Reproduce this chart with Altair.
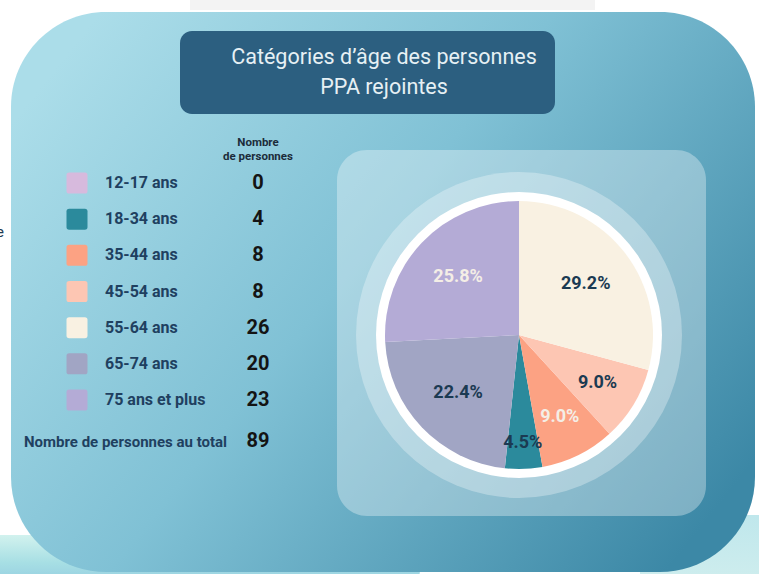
import json
import altair as alt
import pandas as pd

# ---- data ----
categories = ["12-17 ans", "18-34 ans", "35-44 ans", "45-54 ans",
              "55-64 ans", "65-74 ans", "75 ans et plus"]
counts = [0, 4, 8, 8, 26, 20, 23]
percent_labels = [0.0, 4.5, 9.0, 9.0, 29.2, 22.4, 25.8]
colors = ["#d7badd", "#2b8a9c", "#fca283", "#fdc6b3", "#f9f1e2", "#a1a5c4", "#b4abd6"]
pie_order = ["55-64 ans", "45-54 ans", "35-44 ans", "18-34 ans",
             "65-74 ans", "75 ans et plus", "12-17 ans"]
light_label_cats = ["35-44 ans", "75 ans et plus"]
title_lines = ["Catégories d’âge des personnes", "PPA rejointes"]
header_lines = ["Nombre", "de personnes"]
total_label = "Nombre de personnes au total"

df = pd.DataFrame({"cat": categories, "count": counts, "pct": percent_labels})
one = pd.DataFrame({"a": [0]})

FONT = "Roboto"
CX, CY = 519, 335
order_expr = f"indexof({json.dumps(pie_order)}, datum.cat)"

color = alt.Color("cat:N", scale=alt.Scale(domain=categories, range=colors), legend=None)
ypos = alt.Y("cat:N", scale=alt.Scale(type="point", domain=categories, range=[183, 400], padding=0), axis=None)

base1 = alt.Chart(one)

# ---- decorative background ----
top_bar = base1.mark_rect(color="#f3f3f3").encode(
    x=alt.value(190), x2=alt.value(595), y=alt.value(0), y2=alt.value(10))

water_l = base1.mark_rect(
    cornerRadius=20,
    fill=alt.Gradient(gradient="linear", x1=0, y1=0, x2=0, y2=1,
                      stops=[alt.GradientStop(color="#d2f2ee", offset=0),
                             alt.GradientStop(color="#a7dfe4", offset=0.5),
                             alt.GradientStop(color="#90c8e0", offset=1)])
).encode(x=alt.value(-20), x2=alt.value(420), y=alt.value(535), y2=alt.value(590))

water_r = base1.mark_rect(
    cornerRadius=25,
    fill=alt.Gradient(gradient="linear", x1=0, y1=0, x2=0, y2=1,
                      stops=[alt.GradientStop(color="#bfe7ec", offset=0),
                             alt.GradientStop(color="#d3efee", offset=1)])
).encode(x=alt.value(640), x2=alt.value(790), y=alt.value(515), y2=alt.value(600))

main_bg = base1.mark_rect(
    cornerRadius=95,
    fill=alt.Gradient(gradient="linear", x1=0, y1=0.2, x2=1, y2=0.8,
                      stops=[alt.GradientStop(color="#abdde9", offset=0),
                             alt.GradientStop(color="#80c1d5", offset=0.45),
                             alt.GradientStop(color="#3c88a6", offset=1)])
).encode(x=alt.value(11), x2=alt.value(755), y=alt.value(12), y2=alt.value(572))

title_box = base1.mark_rect(color="#2c5f80", cornerRadius=12).encode(
    x=alt.value(180), x2=alt.value(555), y=alt.value(31), y2=alt.value(114))

title1 = base1.mark_text(font=FONT, fontSize=21.5, color="#e6f0f4", align="center", baseline="middle").encode(
    x=alt.value(384), y=alt.value(58), text=alt.value(title_lines[0]))
title2 = base1.mark_text(font=FONT, fontSize=21.5, color="#e6f0f4", align="center", baseline="middle").encode(
    x=alt.value(384), y=alt.value(88), text=alt.value(title_lines[1]))

stray = base1.mark_text(font=FONT, fontSize=15, color="#1f3b52", align="left", baseline="middle").encode(
    x=alt.value(-4), y=alt.value(232), text=alt.value("e"))

header1 = base1.mark_text(font=FONT, fontSize=11.5, fontWeight="bold", color="#1c2c3a", align="center", baseline="middle").encode(
    x=alt.value(258), y=alt.value(143), text=alt.value(header_lines[0]))
header2 = base1.mark_text(font=FONT, fontSize=11.5, fontWeight="bold", color="#1c2c3a", align="center", baseline="middle").encode(
    x=alt.value(258), y=alt.value(157), text=alt.value(header_lines[1]))

panel = base1.mark_rect(color="white", opacity=0.33, cornerRadius=30).encode(
    x=alt.value(337), x2=alt.value(706), y=alt.value(150), y2=alt.value(516))

halo = base1.mark_arc(fill="white", fillOpacity=0.3, radius=163, theta=0, theta2=6.2832).encode(
    x=alt.value(CX), y=alt.value(CY))
ring = base1.mark_arc(fill="white", fillOpacity=1, radius=143, theta=0, theta2=6.2832).encode(
    x=alt.value(CX), y=alt.value(CY))

# ---- legend table ----
leg = alt.Chart(df)
squares = leg.mark_point(
    shape="M -0.75 -1 L 0.75 -1 Q 1 -1 1 -0.75 L 1 0.75 Q 1 1 0.75 1 L -0.75 1 Q -1 1 -1 0.75 L -1 -0.75 Q -1 -1 -0.75 -1 Z",
    filled=True, opacity=1, size=441, strokeWidth=0
).encode(x=alt.value(77), y=ypos, color=color)

cat_text = leg.mark_text(font=FONT, fontSize=16, fontWeight="bold", color="#1f4060", align="left", baseline="middle").encode(
    x=alt.value(105), y=ypos, text="cat:N")

num_text = leg.mark_text(font=FONT, fontSize=20, fontWeight="bold", color="#141414", align="center", baseline="middle").encode(
    x=alt.value(258), y=ypos, text="count:Q")

total_lbl = base1.mark_text(font=FONT, fontSize=15, fontWeight="bold", color="#1f4060", align="left", baseline="middle").encode(
    x=alt.value(24), y=alt.value(442), text=alt.value(total_label))

total_num = leg.transform_aggregate(total="sum(count)").mark_text(
    font=FONT, fontSize=20, fontWeight="bold", color="#141414", align="center", baseline="middle").encode(
    x=alt.value(258), y=alt.value(441), text="total:Q")

# ---- pie ----
pie = leg.transform_calculate(rank=order_expr).mark_arc(radius=134).encode(
    theta=alt.Theta("count:Q", stack=True),
    order=alt.Order("rank:Q"),
    color=color,
    x=alt.value(CX), y=alt.value(CY))

pie_labels = leg.transform_calculate(
    rank=order_expr
).transform_joinaggregate(
    total="sum(count)"
).transform_window(
    cum="sum(count)", sort=[alt.SortField("rank", order="ascending")],
    frame=[None, 0]
).transform_calculate(
    mid="(datum.cum - datum.count / 2) / datum.total * 2 * PI",
    lbl="format(datum.pct, '.1f') + '%'",
    r="datum.pct < 6 ? 108 : (datum.pct < 10 ? 92 : 84)"
).transform_filter("datum.count > 0").mark_text(
    font=FONT, fontSize=18, fontWeight="bold", align="center", baseline="middle").encode(
    theta=alt.Theta("mid:Q", scale=None),
    radius=alt.Radius("r:Q", scale=None),
    text="lbl:N",
    color=alt.condition(alt.FieldOneOfPredicate(field="cat", oneOf=light_label_cats),
                        alt.value("#f4eee6"), alt.value("#1b3a52")),
    x=alt.value(CX), y=alt.value(CY))

chart = alt.layer(
    top_bar, water_l, water_r, main_bg, title_box, title1, title2, stray,
    header1, header2, panel, halo, ring,
    squares, cat_text, num_text, total_lbl, total_num,
    pie, pie_labels
).properties(
    width=759, height=574, background="white", padding=0,
    autosize=alt.AutoSizeParams(type="none")
).configure_view(stroke=None)

chart.save("out.html", embed_options={"renderer": "svg", "actions": False})
